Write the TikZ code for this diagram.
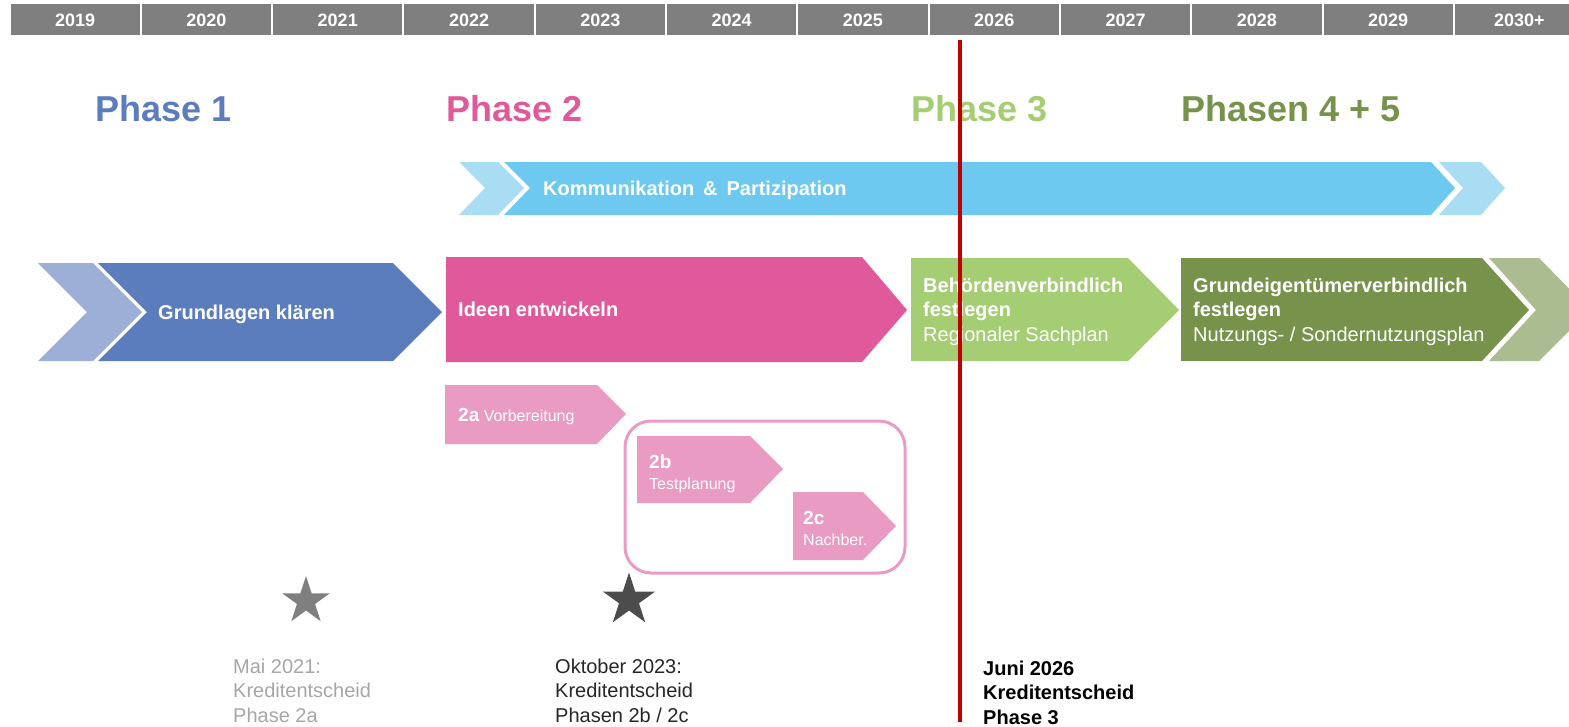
\documentclass[tikz,border=0pt]{standalone}
\usepackage{fontspec}
\setmainfont{Liberation Sans}
\usetikzlibrary{shapes.geometric}
\definecolor{barGray}{HTML}{7F7F7F}
\definecolor{oneBlue}{HTML}{5B7DBE}
\definecolor{oneLight}{HTML}{9CAFD7}
\definecolor{twoPink}{HTML}{DF599B}
\definecolor{subPink}{HTML}{E99BC3}
\definecolor{threeGreen}{HTML}{A5CD73}
\definecolor{fourGreen}{HTML}{77924B}
\definecolor{fourLight}{HTML}{ABBD90}
\definecolor{kommBlue}{HTML}{6DC9EF}
\definecolor{kommLight}{HTML}{A8DDF3}
\definecolor{markRed}{HTML}{C00000}

\begin{document}
\begin{tikzpicture}[x=1pt,y=-1pt,
  yeartext/.style={text=white,font=\fontsize{18}{20}\selectfont\bfseries},
  phasetext/.style={anchor=base west,inner sep=0,font=\fontsize{36}{40}\selectfont\bfseries},
  bartext/.style={anchor=base west,inner sep=0,text=white,align=left,font=\fontsize{20}{24.5}\selectfont},
  subtext/.style={anchor=base west,inner sep=0,text=white,align=left,font=\fontsize{16}{21}\selectfont},
  notetext/.style={anchor=base west,inner sep=0,align=left,font=\fontsize{20}{24.5}\selectfont},
  milestone/.style={star,star points=5,star point ratio=2.618,inner sep=0,draw=none}]
\useasboundingbox (0,0) rectangle (1569,726);
\clip (0,0) rectangle (1569,726);

% year bar
\foreach \yr [count=\i from 0] in {2019,2020,2021,2022,2023,2024,2025,2026,2027,2028,2029,2030+}{
  \fill[barGray] ({9.5+131.3*\i},4) rectangle ++(131.3,31);
  \draw[white,line width=2pt] ({9.5+131.3*\i},4) -- ++(0,31);
  \node[yeartext] (y\i) at ({9.5+131.3*\i+65.65},20) {\yr};
}

% phase titles
\node[phasetext,text=oneBlue] (p1) at (95,121) {Phase 1};
\node[phasetext,text=twoPink] (p2) at (446,121) {Phase 2};
\node[phasetext,text=threeGreen] (p3) at (911,121) {Phase 3};
\node[phasetext,text=fourGreen] (p45) at (1181,121) {Phasen 4 + 5};

% communication band
\fill[kommLight] (459,162) -- (498,162) -- (524,188) -- (498,215) -- (459,215) -- (485,188) -- cycle;
\fill[kommBlue] (504,162) -- (1431,162) -- (1455,188) -- (1431,215) -- (504,215) -- (530,188) -- cycle;
\fill[kommLight] (1439,162) -- (1481,162) -- (1505,188) -- (1481,215) -- (1439,215) -- (1463,188) -- cycle;
\node[bartext,font=\fontsize{20}{24}\selectfont\bfseries] (komm) at (543,195) {Kommunikation \,\&\, Partizipation};

% main phases
\fill[oneLight] (38,263) -- (93,263) -- (142,312) -- (93,361) -- (38,361) -- (87,312) -- cycle;
\fill[oneBlue] (98,263) -- (393,263) -- (442,312) -- (393,361) -- (98,361) -- (147,312) -- cycle;
\node[bartext,font=\fontsize{20}{24}\selectfont\bfseries] (grund) at (158,319) {Grundlagen klären};

\fill[twoPink] (446,257) -- (862,257) -- (907,310) -- (862,362) -- (446,362) -- cycle;
\node[bartext,font=\fontsize{20}{24}\selectfont\bfseries] (ideen) at (458,316) {Ideen entwickeln};

\fill[threeGreen] (911,258) -- (1128,258) -- (1179,310) -- (1128,361) -- (911,361) -- cycle;
\node[bartext] (behoerde) at (923,341) {\textbf{Behördenverbindlich}\\\textbf{festlegen}\\Regionaler Sachplan};

\fill[fourGreen] (1181,258) -- (1482,258) -- (1529,310) -- (1482,361) -- (1181,361) -- cycle;
\fill[fourLight] (1489,258) -- (1539,258) -- (1590,310) -- (1539,361) -- (1489,361) -- (1536,310) -- cycle;
\node[bartext] (eigentum) at (1193,341) {\textbf{Grundeigentümerverbindlich}\\\textbf{festlegen}\\Nutzungs- / Sondernutzungsplan};

% sub phases of phase 2
\fill[subPink] (445,385) -- (597,385) -- (626,414) -- (597,444) -- (445,444) -- cycle;
\node[subtext] (sub2a) at (458,421) {{\fontsize{19}{21}\selectfont\bfseries 2a} Vorbereitung};
\draw[subPink,line width=3pt,rounded corners=26pt] (625,421) rectangle (905,573);
\fill[subPink] (637,436) -- (750,436) -- (783,469) -- (750,503) -- (637,503) -- cycle;
\node[subtext] (sub2b) at (649,489) {{\fontsize{19}{21}\selectfont\bfseries 2b}\\Testplanung};
\fill[subPink] (793,492) -- (863,492) -- (896,526) -- (863,560) -- (793,560) -- cycle;
\node[subtext] (sub2c) at (803,545) {{\fontsize{19}{21}\selectfont\bfseries 2c}\\Nachber.};

% milestones
\node[milestone,fill=barGray,minimum size=50pt] (s1) at (306,601) {};
\node[milestone,fill=black!70,minimum size=55pt] (s2) at (629,600) {};
\node[notetext,text=black!35] (n1) at (233,722) {Mai 2021:\\Kreditentscheid\\Phase 2a};
\node[notetext,text=black!85] (n2) at (555,722) {Oktober 2023:\\Kreditentscheid\\Phasen 2b / 2c};
\node[notetext,font=\fontsize{20}{24.5}\selectfont\bfseries] (n3) at (983,724) {Juni 2026\\Kreditentscheid\\Phase 3};

% today line
\coordinate (rtop) at (960,40);
\coordinate (rbot) at (960,722);
\draw[markRed,line width=4.5pt] (rtop) -- (rbot);
\end{tikzpicture}
\end{document}
